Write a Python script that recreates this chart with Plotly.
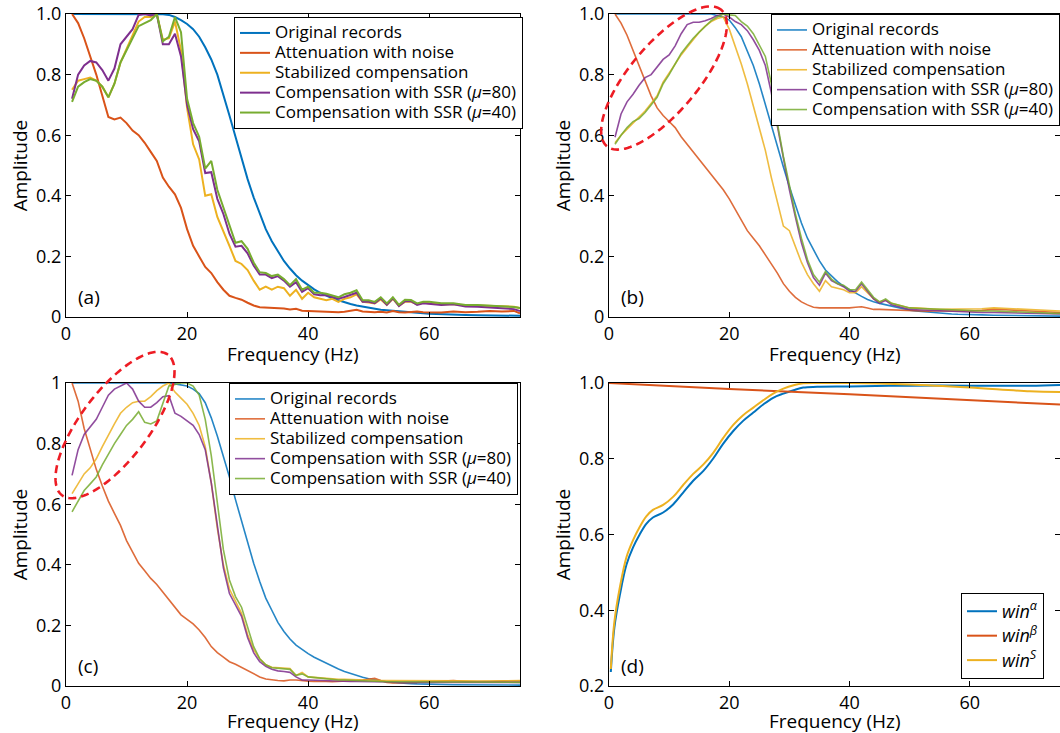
import numpy as np
import plotly.graph_objects as go

# ---------------- data ----------------
FREQ = list(range(1, 61)) + [62, 64, 66, 68, 70, 72, 74, 75]

NAMES = ["Original records", "Attenuation with noise", "Stabilized compensation",
         "Compensation with SSR (<i>μ</i>=80)", "Compensation with SSR (<i>μ</i>=40)"]

# panel (a)
A_ORIG = [1, 1, 1, 1, 1, 1, 1, 1, 1, 1,
          1, 1, 1, 1, 1, 0.999, 0.997, 0.99, 0.98, 0.967,
          0.95, 0.925, 0.89, 0.85, 0.80, 0.735, 0.665, 0.595, 0.525, 0.455,
          0.395, 0.34, 0.29, 0.25, 0.215, 0.185, 0.16, 0.138, 0.12, 0.104,
          0.091, 0.08, 0.07, 0.062, 0.055, 0.048, 0.043, 0.038, 0.034, 0.03,
          0.027, 0.024, 0.022, 0.02, 0.018, 0.016, 0.014, 0.013, 0.012, 0.011,
          0.009, 0.008, 0.007, 0.006, 0.005, 0.005, 0.004, 0.004]
A_ATTEN = [1.0, 0.97, 0.92, 0.86, 0.80, 0.73, 0.66, 0.652, 0.658, 0.64,
           0.615, 0.60, 0.575, 0.545, 0.515, 0.46, 0.43, 0.405, 0.36, 0.29,
           0.235, 0.20, 0.165, 0.145, 0.115, 0.09, 0.07, 0.063, 0.057, 0.047,
           0.038, 0.032, 0.031, 0.031, 0.03, 0.028, 0.025, 0.027, 0.021, 0.02,
           0.019, 0.018, 0.018, 0.017, 0.016, 0.017, 0.02, 0.024, 0.018, 0.016,
           0.016, 0.017, 0.015, 0.02, 0.016, 0.015, 0.017, 0.018, 0.016, 0.016,
           0.015, 0.018, 0.016, 0.017, 0.02, 0.018, 0.02, 0.012]
A_STAB = [0.75, 0.78, 0.785, 0.79, 0.78, 0.76, 0.725, 0.77, 0.84, 0.885,
          0.93, 0.975, 0.99, 0.99, 1.0, 0.915, 0.92, 0.975, 0.88, 0.69,
          0.57, 0.52, 0.40, 0.405, 0.33, 0.285, 0.235, 0.185, 0.175, 0.155,
          0.12, 0.09, 0.10, 0.09, 0.10, 0.095, 0.07, 0.09, 0.06, 0.08,
          0.065, 0.06, 0.055, 0.06, 0.05, 0.06, 0.065, 0.075, 0.05, 0.048,
          0.045, 0.058, 0.04, 0.06, 0.037, 0.05, 0.05, 0.042, 0.047, 0.045,
          0.042, 0.042, 0.038, 0.038, 0.036, 0.036, 0.034, 0.03]
A_SSR80 = [0.72, 0.80, 0.83, 0.845, 0.84, 0.815, 0.78, 0.82, 0.90, 0.925,
           0.95, 0.997, 1.0, 0.995, 1.0, 0.90, 0.90, 0.935, 0.86, 0.70,
           0.62, 0.58, 0.475, 0.478, 0.39, 0.34, 0.275, 0.232, 0.235, 0.21,
           0.17, 0.14, 0.14, 0.128, 0.135, 0.12, 0.10, 0.115, 0.083, 0.095,
           0.075, 0.072, 0.072, 0.066, 0.06, 0.066, 0.072, 0.08, 0.05, 0.05,
           0.046, 0.062, 0.04, 0.062, 0.036, 0.052, 0.052, 0.04, 0.045, 0.044,
           0.04, 0.042, 0.035, 0.034, 0.032, 0.03, 0.026, 0.02]
A_SSR40 = [0.71, 0.76, 0.775, 0.785, 0.78, 0.76, 0.725, 0.77, 0.84, 0.88,
           0.92, 0.96, 0.97, 0.98, 1.0, 0.91, 0.925, 0.99, 0.94, 0.72,
           0.64, 0.595, 0.49, 0.515, 0.42, 0.36, 0.30, 0.245, 0.25, 0.225,
           0.18, 0.148, 0.145, 0.135, 0.14, 0.125, 0.105, 0.125, 0.09, 0.10,
           0.08, 0.08, 0.077, 0.07, 0.065, 0.075, 0.08, 0.088, 0.055, 0.055,
           0.05, 0.065, 0.045, 0.065, 0.04, 0.057, 0.056, 0.045, 0.05, 0.05,
           0.045, 0.045, 0.04, 0.04, 0.038, 0.036, 0.033, 0.03]

# panel (b)
B_ORIG = [1, 1, 1, 1, 1, 1, 1, 1, 1, 1,
          1, 1, 1, 1, 1, 1, 1, 0.995, 0.99, 0.98,
          0.955, 0.925, 0.88, 0.83, 0.77, 0.70, 0.63, 0.56, 0.495, 0.43,
          0.37, 0.31, 0.26, 0.22, 0.185, 0.155, 0.135, 0.117, 0.102, 0.09,
          0.078, 0.068, 0.058, 0.05, 0.045, 0.04, 0.035, 0.03, 0.026, 0.022,
          0.02, 0.018, 0.016, 0.014, 0.012, 0.011, 0.01, 0.009, 0.008, 0.008,
          0.007, 0.006, 0.005, 0.005, 0.004, 0.004, 0.003, 0.003]
B_ATTEN = [1.0, 0.97, 0.93, 0.88, 0.83, 0.78, 0.73, 0.69, 0.665, 0.645,
           0.625, 0.595, 0.57, 0.545, 0.52, 0.495, 0.47, 0.445, 0.42, 0.39,
           0.355, 0.32, 0.285, 0.26, 0.235, 0.205, 0.175, 0.145, 0.11, 0.085,
           0.065, 0.05, 0.04, 0.032, 0.03, 0.031, 0.03, 0.03, 0.029, 0.03,
           0.032, 0.034, 0.03, 0.025, 0.025, 0.024, 0.023, 0.022, 0.021, 0.02,
           0.02, 0.019, 0.019, 0.02, 0.02, 0.019, 0.02, 0.021, 0.02, 0.02,
           0.022, 0.025, 0.024, 0.022, 0.02, 0.018, 0.016, 0.015]
B_STAB = [0.575, 0.60, 0.62, 0.64, 0.66, 0.68, 0.705, 0.73, 0.775, 0.805,
          0.835, 0.865, 0.89, 0.915, 0.94, 0.96, 0.975, 0.985, 0.99, 0.95,
          0.895, 0.835, 0.77, 0.695, 0.625, 0.55, 0.46, 0.375, 0.30, 0.285,
          0.23, 0.18, 0.14, 0.11, 0.085, 0.12, 0.10, 0.095, 0.09, 0.08,
          0.08, 0.10, 0.08, 0.06, 0.05, 0.055, 0.045, 0.04, 0.035, 0.03,
          0.03, 0.028, 0.027, 0.026, 0.025, 0.025, 0.026, 0.025, 0.025, 0.025,
          0.027, 0.03, 0.028, 0.027, 0.025, 0.022, 0.02, 0.02]
B_SSR80 = [0.593, 0.67, 0.71, 0.735, 0.765, 0.79, 0.80, 0.825, 0.85, 0.865,
           0.895, 0.935, 0.965, 0.973, 0.973, 0.978, 0.985, 0.995, 1.0, 0.99,
           0.975, 0.965, 0.945, 0.915, 0.88, 0.83, 0.74, 0.63, 0.52, 0.42,
           0.33, 0.245, 0.18, 0.13, 0.105, 0.145, 0.12, 0.11, 0.10, 0.085,
           0.085, 0.11, 0.085, 0.06, 0.045, 0.055, 0.04, 0.035, 0.03, 0.025,
           0.024, 0.023, 0.022, 0.021, 0.02, 0.019, 0.018, 0.017, 0.016, 0.015,
           0.015, 0.015, 0.014, 0.013, 0.012, 0.011, 0.01, 0.01]
B_SSR40 = [0.57, 0.60, 0.625, 0.645, 0.655, 0.675, 0.70, 0.725, 0.77, 0.80,
           0.835, 0.87, 0.895, 0.92, 0.94, 0.96, 0.978, 0.99, 1.0, 0.997,
           0.995, 0.975, 0.96, 0.935, 0.90, 0.86, 0.77, 0.64, 0.53, 0.43,
           0.34, 0.26, 0.19, 0.14, 0.115, 0.15, 0.125, 0.11, 0.105, 0.09,
           0.09, 0.115, 0.09, 0.065, 0.05, 0.06, 0.045, 0.04, 0.035, 0.03,
           0.029, 0.028, 0.027, 0.026, 0.025, 0.024, 0.023, 0.022, 0.021, 0.02,
           0.02, 0.02, 0.019, 0.017, 0.015, 0.014, 0.012, 0.012]

# panel (c)
C_ORIG = [1, 1, 1, 1, 1, 1, 1, 1, 1, 1,
          1, 1, 1, 1, 1, 1, 1, 0.997, 0.993, 0.99,
          0.98, 0.965, 0.935, 0.885, 0.825, 0.76, 0.69, 0.615, 0.545, 0.475,
          0.405, 0.345, 0.29, 0.25, 0.21, 0.18, 0.155, 0.135, 0.12, 0.107,
          0.095, 0.085, 0.075, 0.065, 0.056, 0.048, 0.041, 0.035, 0.029, 0.024,
          0.02, 0.017, 0.014, 0.012, 0.01, 0.009, 0.008, 0.007, 0.006, 0.005,
          0.005, 0.004, 0.004, 0.004, 0.003, 0.003, 0.003, 0.003]
C_ATTEN = [1.0, 0.94, 0.85, 0.785, 0.715, 0.66, 0.61, 0.57, 0.53, 0.48,
           0.44, 0.405, 0.38, 0.355, 0.335, 0.31, 0.285, 0.26, 0.235, 0.22,
           0.205, 0.185, 0.16, 0.13, 0.11, 0.095, 0.08, 0.072, 0.062, 0.052,
           0.04, 0.03, 0.023, 0.02, 0.018, 0.017, 0.02, 0.02, 0.017, 0.016,
           0.015, 0.016, 0.015, 0.014, 0.015, 0.016, 0.015, 0.018, 0.02, 0.022,
           0.025, 0.018, 0.012, 0.01, 0.01, 0.011, 0.012, 0.012, 0.013, 0.014,
           0.015, 0.018, 0.015, 0.014, 0.015, 0.016, 0.017, 0.017]
C_STAB = [0.635, 0.67, 0.70, 0.72, 0.75, 0.79, 0.83, 0.865, 0.90, 0.92,
          0.935, 0.94, 0.94, 0.955, 0.975, 0.99, 1.0, 0.97, 0.95, 0.93,
          0.90, 0.86, 0.79, 0.67, 0.52, 0.40, 0.32, 0.28, 0.24, 0.17,
          0.12, 0.09, 0.07, 0.062, 0.06, 0.06, 0.058, 0.035, 0.045, 0.03,
          0.028, 0.026, 0.025, 0.024, 0.022, 0.022, 0.021, 0.02, 0.02, 0.02,
          0.019, 0.018, 0.018, 0.018, 0.017, 0.018, 0.018, 0.019, 0.018, 0.018,
          0.017, 0.018, 0.017, 0.016, 0.017, 0.018, 0.018, 0.018]
C_SSR80 = [0.695, 0.78, 0.83, 0.855, 0.88, 0.92, 0.96, 0.98, 0.99, 1.0,
           0.98, 0.94, 0.92, 0.92, 0.935, 0.955, 0.958, 0.90, 0.89, 0.875,
           0.86, 0.83, 0.78, 0.67, 0.525, 0.39, 0.305, 0.27, 0.23, 0.16,
           0.11, 0.08, 0.065, 0.055, 0.05, 0.048, 0.045, 0.03, 0.02, 0.02,
           0.019, 0.018, 0.017, 0.016, 0.015, 0.015, 0.015, 0.015, 0.015, 0.015,
           0.014, 0.014, 0.013, 0.013, 0.012, 0.012, 0.012, 0.012, 0.012, 0.012,
           0.011, 0.01, 0.01, 0.01, 0.01, 0.011, 0.012, 0.012]
C_SSR40 = [0.575, 0.61, 0.645, 0.667, 0.69, 0.73, 0.765, 0.80, 0.83, 0.86,
           0.88, 0.905, 0.87, 0.865, 0.875, 0.93, 0.99, 0.995, 1.0, 1.0,
           0.99, 0.96, 0.88, 0.76, 0.60, 0.45, 0.35, 0.295, 0.26, 0.195,
           0.13, 0.09, 0.07, 0.06, 0.058, 0.056, 0.055, 0.035, 0.04, 0.03,
           0.028, 0.025, 0.024, 0.022, 0.02, 0.02, 0.019, 0.018, 0.017, 0.015,
           0.015, 0.015, 0.014, 0.014, 0.014, 0.013, 0.013, 0.013, 0.013, 0.013,
           0.013, 0.013, 0.012, 0.012, 0.012, 0.012, 0.012, 0.012]

# panel (d)
D_FREQ = [0.3, 0.9, 1.8, 2.9, 4.0, 5.1, 6.2, 7.3, 9.0, 10.7, 12.3, 14.0, 15.7, 17.3,
          19.0, 20.7, 22.3, 24.0, 25.7, 27.3, 29.0, 30.7, 32.3, 34.6, 40, 50, 60, 70, 75]
D_WIN_A = [0.237, 0.355, 0.44, 0.52, 0.566, 0.60, 0.628, 0.645, 0.658, 0.68, 0.71, 0.742,
           0.768, 0.80, 0.84, 0.874, 0.90, 0.922, 0.944, 0.961, 0.972, 0.981, 0.988,
           0.99, 0.991, 0.993, 0.993, 0.993, 0.995]
D_WIN_S = [0.245, 0.37, 0.46, 0.54, 0.585, 0.62, 0.648, 0.665, 0.678, 0.70, 0.73, 0.76,
           0.785, 0.815, 0.855, 0.89, 0.915, 0.935, 0.955, 0.972, 0.985, 0.994, 0.999,
           1.0, 1.0, 0.996, 0.988, 0.978, 0.976]
D_FREQ_B = [0, 20, 40, 60, 75]
D_WIN_B = [1.0, 0.984, 0.970, 0.954, 0.943]
D_NAMES = ["<i>win</i><sup><i>α</i></sup>", "<i>win</i><sup><i>β</i></sup>",
           "<i>win</i><sup><i>S</i></sup>"]

Y_TICKS = [0, 0.2, 0.4, 0.6, 0.8, 1.0]
Y_TEXT_AB = ["0", "0.2", "0.4", "0.6", "0.8", "1.0"]
Y_TEXT_C = ["0", "0.2", "0.4", "0.6", "0.8", "1"]
D_TICKS = [0.2, 0.4, 0.6, 0.8, 1.0]
D_TEXT = ["0.2", "0.4", "0.6", "0.8", "1.0"]
X_TICKS = [0, 20, 40, 60]
X_TITLE = "Frequency (Hz)"
Y_TITLE = "Amplitude"

# ---------------- styling ----------------
COLORS = ["#0072BD", "#D95319", "#EDB120", "#7E2F8E", "#77AC30"]
FONT = "Open Sans"
W, H = 1060, 733
ML, MR, MT, MB = 66, 0, 14, 47
PW, PH = W - ML - MR, H - MT - MB
LEG_TEXT = 17      # visible legend text size
LEG_ROW = 13       # size used by the legend layout (sets the tight row spacing)


def px_x(p):
    return (p - ML) / PW


def px_y(p):
    return (H - MB - p) / PH


def sized(s, size):
    return f'<span style="font-size:{size}px">{s}</span>'


fig = go.Figure()

panels = [
    ("x", "y", "legend", [A_ORIG, A_ATTEN, A_STAB, A_SSR80, A_SSR40], 2.0, 1.0),
    ("x2", "y2", "legend2", [B_ORIG, B_ATTEN, B_STAB, B_SSR80, B_SSR40], 1.6, 0.85),
    ("x3", "y3", "legend3", [C_ORIG, C_ATTEN, C_STAB, C_SSR80, C_SSR40], 1.6, 0.85),
]
for xa, ya, leg, series, lw, op in panels:
    for name, vals, col in zip(NAMES, series, COLORS):
        fig.add_trace(go.Scatter(x=FREQ, y=vals, mode="lines", name=sized(name, LEG_TEXT),
                                 line=dict(color=col, width=lw), opacity=op,
                                 xaxis=xa, yaxis=ya, legend=leg))

fig.add_trace(go.Scatter(x=D_FREQ, y=D_WIN_A, mode="lines", name=sized(D_NAMES[0], 18),
                         line=dict(color=COLORS[0], width=2, shape="spline"),
                         xaxis="x4", yaxis="y4", legend="legend4"))
fig.add_trace(go.Scatter(x=D_FREQ_B, y=D_WIN_B, mode="lines", name=sized(D_NAMES[1], 18),
                         line=dict(color=COLORS[1], width=2),
                         xaxis="x4", yaxis="y4", legend="legend4"))
fig.add_trace(go.Scatter(x=D_FREQ, y=D_WIN_S, mode="lines", name=sized(D_NAMES[2], 18),
                         line=dict(color=COLORS[2], width=2, shape="spline"),
                         xaxis="x4", yaxis="y4", legend="legend4"))

XL = [0, px_x(66 + 454)]
XR = [px_x(609), 1.0]
YT = [px_y(317), 1.0]
YB = [0, px_y(383)]

TICK_SIZE = 18
TITLE_SIZE = 19


def xax(domain, anchor):
    return dict(domain=domain, anchor=anchor, range=[0, 75], tickvals=X_TICKS,
                ticks="inside", ticklen=5, tickwidth=1.2, tickcolor="black",
                showline=True, linecolor="black", linewidth=1.3, mirror="ticks",
                showgrid=False, zeroline=False,
                tickfont=dict(size=TICK_SIZE, color="black"))


def yax(domain, anchor, rng, tv, tt):
    return dict(domain=domain, anchor=anchor, range=rng, tickvals=tv, ticktext=tt,
                ticks="inside", ticklen=5, tickwidth=1.2, tickcolor="black",
                showline=True, linecolor="black", linewidth=1.3, mirror="ticks",
                showgrid=False, zeroline=False,
                tickfont=dict(size=TICK_SIZE, color="black"),
                title=dict(text=Y_TITLE, font=dict(size=TITLE_SIZE, color="black"),
                           standoff=3))


leg_common = dict(bgcolor="white", bordercolor="black", borderwidth=1,
                  font=dict(family=FONT, size=LEG_ROW, color="black"),
                  xanchor="left", yanchor="top", tracegroupgap=0)

fig.update_layout(
    width=W, height=H,
    margin=dict(l=ML, r=MR, t=MT, b=MB, autoexpand=False),
    paper_bgcolor="white", plot_bgcolor="white",
    font=dict(family=FONT, color="black"),
    xaxis=xax(XL, "y"), yaxis=yax(YT, "x", [0, 1], Y_TICKS, Y_TEXT_AB),
    xaxis2=xax(XR, "y2"), yaxis2=yax(YT, "x2", [0, 1], Y_TICKS, Y_TEXT_AB),
    xaxis3=xax(XL, "y3"), yaxis3=yax(YB, "x3", [0, 1], Y_TICKS, Y_TEXT_C),
    xaxis4=xax(XR, "y4"), yaxis4=yax(YB, "x4", [0.2, 1.0], D_TICKS, D_TEXT),
    legend=dict(x=px_x(234), y=px_y(17), **leg_common),
    legend2=dict(x=px_x(771), y=px_y(14), **leg_common),
    legend3=dict(x=px_x(229), y=px_y(383), **leg_common),
    legend4=dict(x=px_x(961), y=px_y(593), bgcolor="white", bordercolor="black",
                 borderwidth=1, font=dict(family=FONT, size=16.5, color="black"),
                 xanchor="left", yanchor="top"),
    showlegend=True,
)

# x-axis titles (placed just under the tick labels, as in the reference)
for dom, ypix in [(XL, 354), (XR, 354), (XL, 721), (XR, 721)]:
    fig.add_annotation(text=X_TITLE, xref="paper", yref="paper",
                       x=(dom[0] + dom[1]) / 2, y=px_y(ypix),
                       xanchor="center", yanchor="middle", showarrow=False,
                       font=dict(size=TITLE_SIZE, color="black", family=FONT))

# panel labels
for lab, xr, yr in [("(a)", "x", "y"), ("(b)", "x2", "y2"), ("(c)", "x3", "y3"), ("(d)", "x4", "y4")]:
    fig.add_annotation(text=lab, xref=xr + " domain", yref=yr + " domain",
                       x=0.022, y=0.066, xanchor="left", yanchor="middle",
                       showarrow=False, font=dict(size=19, color="black", family=FONT))

# red dashed ellipses (pixel geometry -> paper coordinates)
ELLIPSES = [dict(cx=664, cy=78, a=89, b=34, ang=50),
            dict(cx=115, cy=425, a=88, b=34, ang=53)]
t = np.linspace(0, 2 * np.pi, 121)
for e in ELLIPSES:
    th = np.deg2rad(e["ang"])
    pxs = e["cx"] + e["a"] * np.cos(th) * np.cos(t) - e["b"] * np.sin(th) * np.sin(t)
    pys = e["cy"] - (e["a"] * np.sin(th) * np.cos(t) + e["b"] * np.cos(th) * np.sin(t))
    pts = [f"{px_x(a):.5f},{px_y(b):.5f}" for a, b in zip(pxs, pys)]
    path = "M" + " L".join(pts) + " Z"
    fig.add_shape(type="path", path=path, xref="paper", yref="paper",
                  line=dict(color="rgb(237,28,36)", width=2.6, dash="8px,5px"),
                  layer="above")

fig.write_html("out.html")
